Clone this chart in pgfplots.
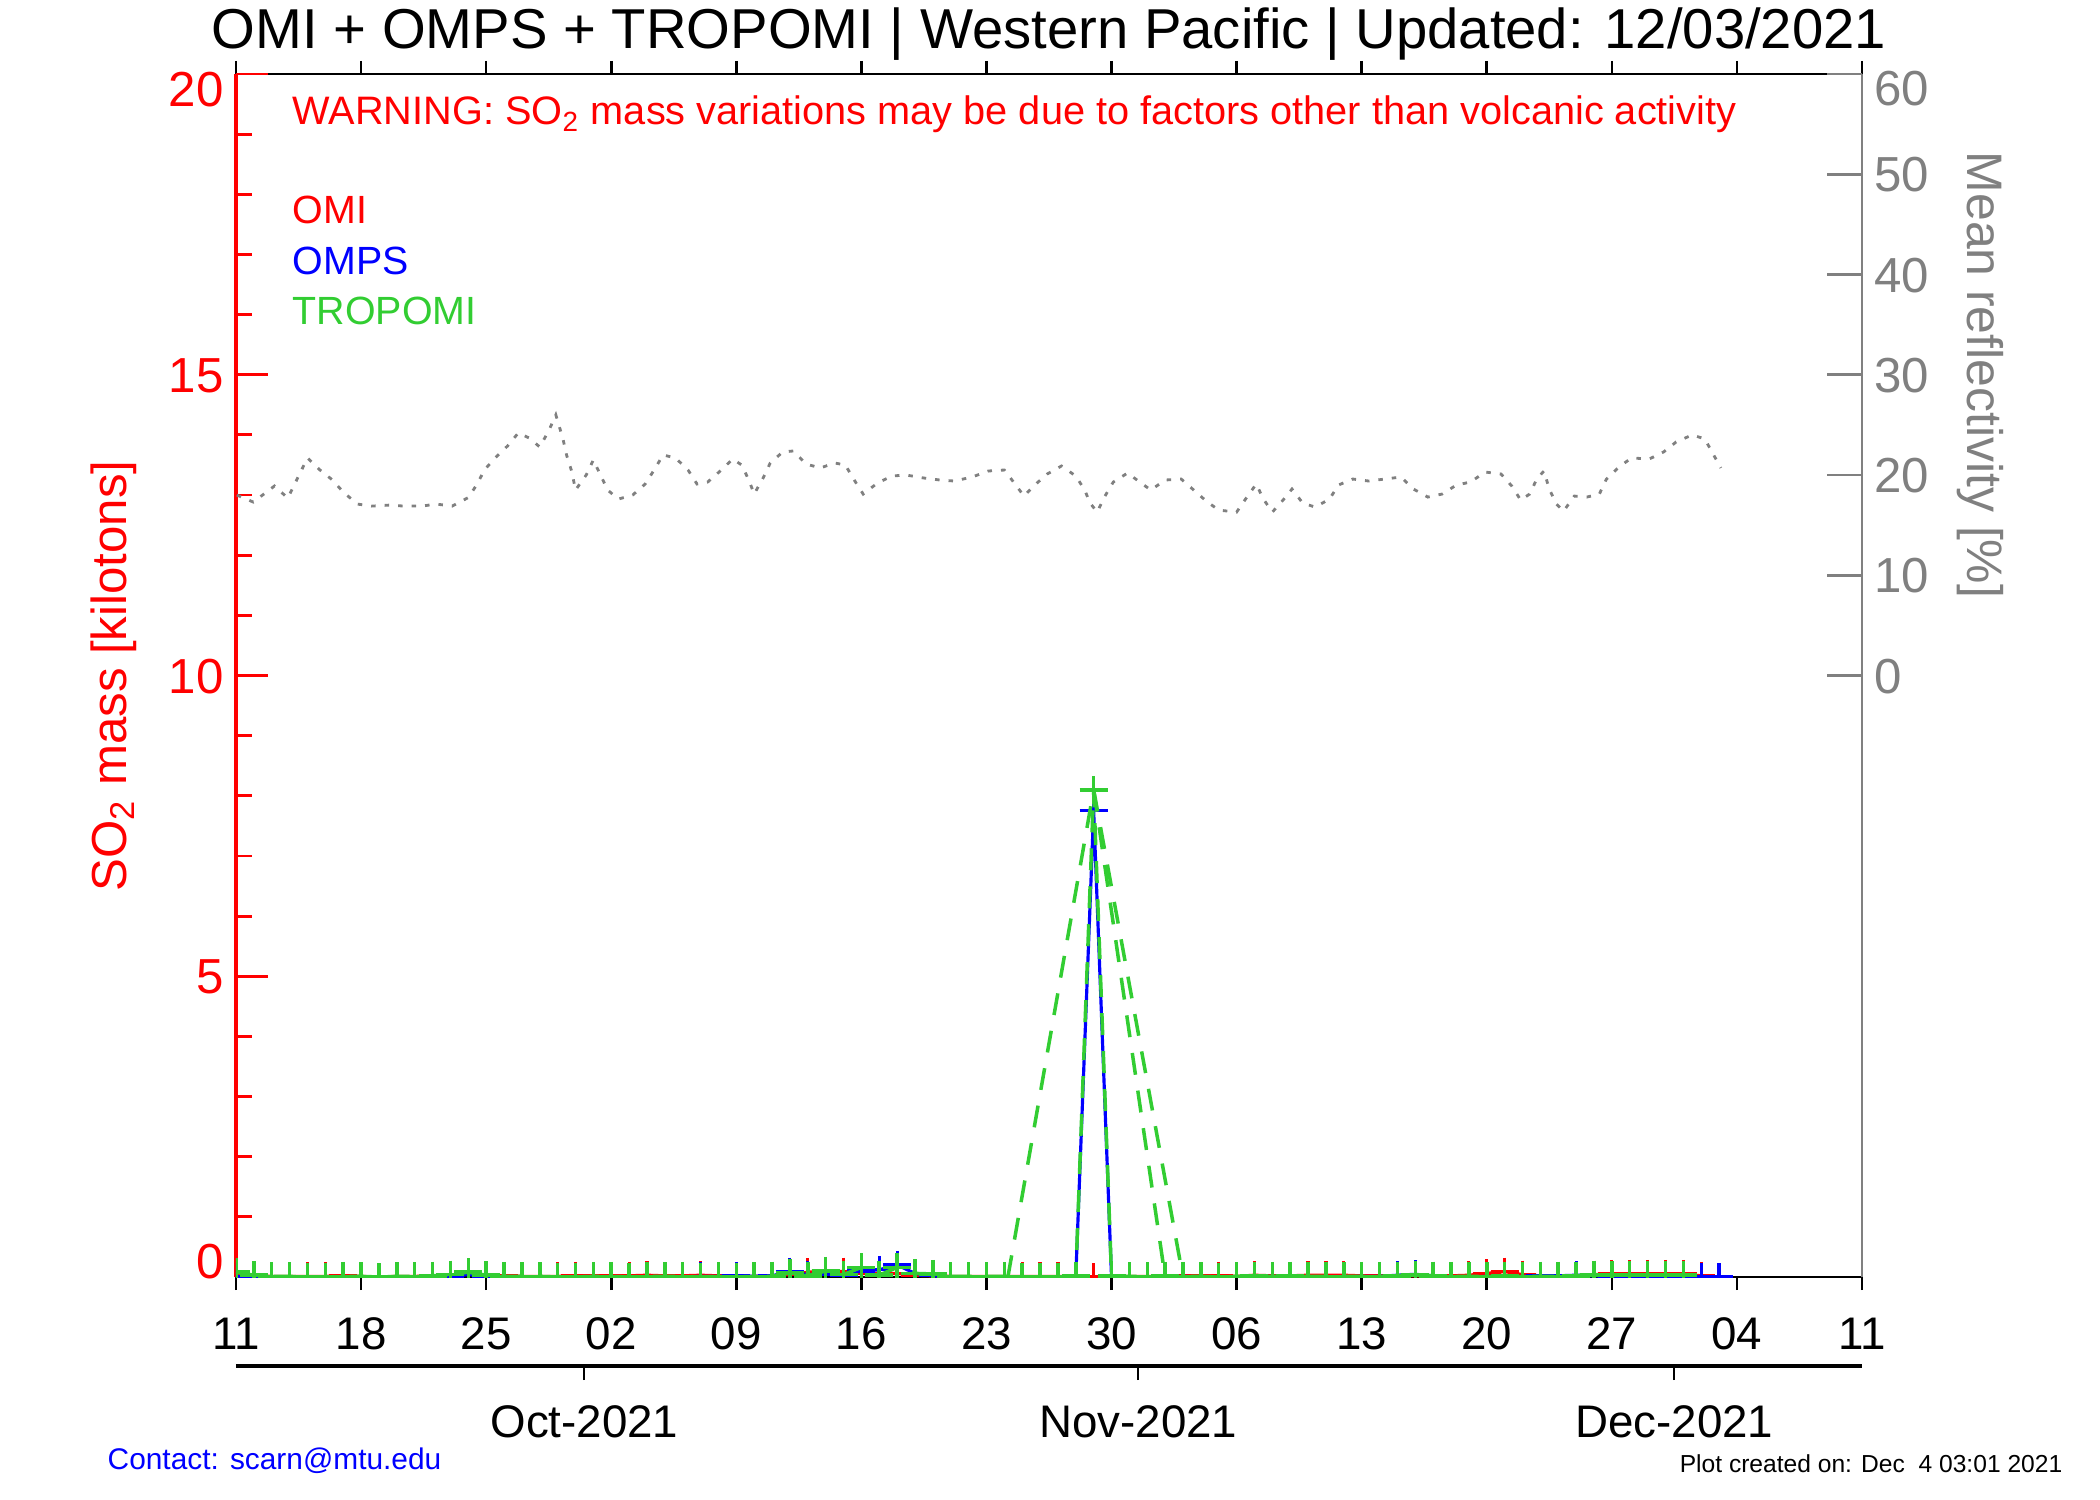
\documentclass[border=0pt]{standalone}
\usepackage{fontspec}
\setmainfont{Liberation Sans}
\usepackage{pgfplots}
\usepackage{pgfplotstable}
\pgfplotsset{compat=1.18}
\definecolor{omired}{RGB}{255,0,0}
\definecolor{ompsblue}{RGB}{0,0,255}
\definecolor{tropgreen}{RGB}{50,205,50}
\definecolor{refgray}{RGB}{128,128,128}
\newcommand{\tl}[2]{\raisebox{#1}[0pt][0pt]{#2}}

\pgfplotstableread{
day r
0.05 18.0
0.97 17.3
2.15 18.9
2.9 17.7
4.0 21.7
4.7 20.5
5.4 19.5
6.0 18.3
6.8 17.1
7.6 16.9
8.6 17.0
9.4 16.9
10.4 16.9
11.2 17.1
12.1 16.9
13.0 17.75
13.5 19.1
13.9 20.5
14.5 21.7
15.2 22.9
15.8 24.2
16.4 23.7
17.0 22.8
17.5 24.4
17.9 26.0
18.3 23.6
18.5 22.0
18.8 20.3
19.0 18.5
19.6 20.0
20.0 21.5
20.4 20.0
20.8 18.5
21.4 17.6
22.2 18.0
22.9 19.1
23.4 20.5
23.9 22.0
24.6 21.7
25.3 20.5
25.8 19.1
26.4 19.3
27.1 20.4
27.8 21.6
28.3 21.0
28.7 19.5
29.0 18.1
29.5 19.7
29.9 21.2
30.6 22.3
31.2 22.4
31.9 21.1
32.7 20.7
33.5 21.2
34.1 21.0
34.6 19.5
35.1 18.1
35.9 19.2
36.7 19.9
37.5 20.0
38.5 19.7
39.4 19.5
40.2 19.4
41.2 19.8
42.1 20.4
43.0 20.5
43.6 19.1
44.1 17.9
44.7 19.0
45.4 20.1
46.2 20.9
47.0 19.9
47.5 18.5
47.8 17.2
48.2 16.3
48.6 17.8
49.1 19.3
49.9 20.2
50.5 19.4
51.2 18.5
52.0 19.5
52.9 19.6
53.6 18.5
54.3 17.4
55.0 16.5
56.0 16.3
56.5 17.6
57.1 19.1
57.5 17.6
58.0 16.3
58.6 17.5
59.1 18.6
59.7 17.2
60.4 16.8
61.2 17.6
61.7 19.0
62.5 19.6
63.4 19.4
64.3 19.6
65.2 19.8
65.9 18.6
66.7 17.8
67.5 18.1
68.3 19.0
69.1 19.3
69.9 20.3
70.8 20.1
71.4 18.9
71.9 17.5
72.4 18.1
72.8 19.6
73.2 20.4
73.5 18.6
73.9 17.1
74.3 16.4
74.9 17.9
75.6 17.8
76.3 18.1
76.7 19.6
77.4 20.8
78.1 21.7
79.1 21.6
79.9 22.3
80.6 23.3
81.5 24.0
82.2 23.6
82.7 22.0
83.1 20.7
}\refl

\pgfplotstableread{
day v
0 0.03
1 0.02
2 0.01
3 0.01
4 0.01
5 0.01
6 0.02
7 0.01
8 0.00
9 0.01
10 0.01
11 0.02
12 0.03
13 0.06
14 0.03
15 0.02
16 0.01
17 0.01
18 0.01
19 0.02
20 0.02
21 0.02
22 0.02
23 0.03
24 0.02
25 0.02
26 0.03
27 0.02
28 0.01
29 0.01
30 0.02
31 0.04
32 0.08
33 0.10
34 0.09
35 0.06
36 0.05
37 0.06
38 0.03
39 0.02
40 0.01
41 0.01
42 0.01
43 0.01
44 0.01
45 0.01
46 0.01
47 0.01
48 0.00
49 0.00
50 0.01
51 0.01
52 0.01
53 0.02
54 0.02
55 0.02
56 0.01
57 0.03
58 0.02
59 0.02
60 0.03
61 0.03
62 0.03
63 0.02
64 0.02
65 0.02
66 0.02
67 0.02
68 0.02
69 0.03
70 0.06
71 0.09
72 0.04
73 0.02
74 0.02
75 0.02
76 0.04
77 0.05
78 0.05
79 0.05
80 0.05
81 0.05
82 0.02
83 0.00
}\omi

\pgfplotstableread{
day v
0 0.00
1 0.00
2 0.00
3 0.00
4 0.00
5 0.00
6 0.00
7 0.00
8 0.00
9 0.00
10 0.00
11 0.00
12 0.01
13 0.04
14 0.01
15 0.00
16 0.00
17 0.00
18 0.00
19 0.00
20 0.00
21 0.00
22 0.00
23 0.00
24 0.00
25 0.00
26 0.01
27 0.01
28 0.02
29 0.01
30 0.02
31 0.09
32 0.04
33 0.05
34 0.03
35 0.10
36 0.12
37 0.20
38 0.06
39 0.02
40 0.00
41 0.00
42 0.00
43 0.00
44 0.00
45 0.00
46 0.00
47 0.00
48 7.75
49 0.00
50 0.00
51 0.00
52 0.00
53 0.01
54 0.00
55 0.00
56 0.00
57 0.01
58 0.01
59 0.01
60 0.00
61 0.00
62 0.00
63 0.01
64 0.01
65 0.03
66 0.045
67 0.02
68 0.00
69 0.00
70 0.01
71 0.01
72 0.01
73 0.02
74 0.02
75 0.03
76 0.02
77 0.01
78 0.01
79 0.01
80 0.01
81 0.01
82 0.00
83 0.00
}\omps

\pgfplotstableread{
day v
0 0.08
1 0.03
2 0.01
3 0.01
4 0.00
5 0.00
6 0.01
7 0.01
8 0.00
9 0.01
10 0.01
11 0.02
12 0.04
13 0.08
14 0.03
15 0.01
16 0.01
17 0.01
18 0.00
19 0.00
20 0.01
21 0.01
22 0.00
23 0.01
24 0.01
25 0.01
26 0.00
27 0.01
28 0.00
29 0.01
30 0.01
31 0.07
32 0.02
33 0.10
34 0.04
35 0.16
36 0.03
37 0.16
38 0.06
39 0.05
40 0.01
41 0.01
42 0.01
43 0.01
44 0.00
45 0.00
46 0.00
47 0.02
48 8.10
49 0.02
50 0.01
51 0.01
52 0.02
53 0.01
54 0.01
55 0.00
56 0.01
57 0.02
58 0.01
59 0.02
60 0.01
61 0.01
62 0.01
63 0.01
64 0.01
65 0.02
66 0.03
67 0.02
68 0.01
69 0.01
70 0.01
71 0.02
72 0.01
73 0.01
74 0.01
75 0.02
76 0.03
77 0.03
78 0.03
79 0.03
80 0.03
81 0.03
}\tropomi

\begin{document}
\begin{tikzpicture}
\path[use as bounding box] (-23.6mm,-22.3mm) rectangle (186.4mm,127.7mm);

% x axis box (bottom and top), day ticks
\begin{axis}[at={(0,0)}, anchor=south west, scale only axis,
  width=162.6mm, height=120.3mm,
  xmin=0, xmax=91, ymin=0, ymax=20,
  hide y axis,
  xtick={0,7,...,91},
  xticklabels={11,18,25,02,09,16,23,30,06,13,20,27,04,11},
  xtick pos=both, xticklabel pos=lower,
  tick align=outside, major tick length=1.3mm,
  axis line style={black, line width=0.75pt},
  tick style={black, line width=0.75pt},
  xticklabel style={font=\fontsize{13}{15}\selectfont, anchor=base, yshift=-5.9mm}]
\end{axis}

% SO2 mass (left axis)
\begin{axis}[at={(0,0)}, anchor=south west, scale only axis,
  width=162.6mm, height=120.3mm,
  xmin=0, xmax=91, ymin=0, ymax=20,
  hide x axis, axis y line*=left,
  y axis line style={omired, line width=0.9pt},
  ytick={0,5,...,20},
  yticklabels={\tl{-0.1mm}{0},\tl{-1.77mm}{5},\tl{-1.77mm}{10},\tl{-1.77mm}{15},\tl{-3.25mm}{20}},
  minor ytick={1,2,3,4,6,7,8,9,11,12,13,14,16,17,18,19},
  tick align=inside, major tick length=3.2mm, minor tick length=1.6mm,
  tick style={omired, line width=0.8pt},
  yticklabel style={omired, font=\fontsize{14}{16}\selectfont},
  clip marker paths=true]
\addplot[omired, line width=0.9pt, mark=+, mark size=1.4mm, mark options={solid, line width=0.9pt}] table {\omi};
\addplot[ompsblue, line width=0.9pt, mark=+, mark size=1.4mm, mark options={solid, line width=0.9pt}] table {\omps};
\addplot[tropgreen, line width=1.0pt, dash pattern=on 2.2mm off 1.6mm, mark=+, mark size=1.4mm, mark options={solid, line width=1.0pt}] table {\tropomi};
\addplot[tropgreen, line width=1.0pt, dash pattern=on 2.2mm off 1.6mm] coordinates {(43.2,0) (48,8.1)};
\addplot[tropgreen, line width=1.0pt, dash pattern=on 2.2mm off 1.6mm] coordinates {(48,8.1) (52.0,0)};
\addplot[tropgreen, line width=1.0pt, dash pattern=on 2.2mm off 1.6mm] coordinates {(48,8.1) (53.0,0)};
\end{axis}

% reflectivity (right axis)
\begin{axis}[at={(0,0)}, anchor=south west, scale only axis,
  width=162.6mm, height=120.3mm,
  xmin=0, xmax=91, ymin=-60, ymax=60,
  hide x axis, axis y line*=right,
  y axis line style={refgray, line width=0.8pt},
  ytick={0,10,...,60},
  yticklabels={\tl{-1.77mm}{0},\tl{-1.77mm}{10},\tl{-1.77mm}{20},\tl{-1.77mm}{30},\tl{-1.77mm}{40},\tl{-1.77mm}{50},\tl{-3.1mm}{60}},
  tick align=inside, major tick length=3.5mm,
  tick style={refgray, line width=0.8pt},
  yticklabel style={refgray, font=\fontsize{14}{16}\selectfont}]
\addplot[refgray, line width=0.8pt, dash pattern=on 0.45mm off 0.9mm] table {\refl};
\end{axis}

% month axis
\begin{axis}[at={(0,-8.9mm)}, anchor=south west, scale only axis,
  width=162.6mm, height=5mm,
  xmin=0, xmax=91, ymin=0, ymax=1,
  axis x line*=bottom, hide y axis,
  xtick={19.5,50.5,80.5},
  xticklabels={Oct-2021,Nov-2021,Dec-2021},
  tick align=outside, major tick length=1.4mm,
  axis line style={black, line width=1.3pt},
  tick style={black, line width=0.6pt},
  xticklabel style={font=\fontsize{13}{15}\selectfont, anchor=base, yshift=-5.7mm}]
\end{axis}

\node[anchor=base, font=\fontsize{16}{19}\selectfont] at (81.3mm,122.8mm)
  {OMI + OMPS + TROPOMI | Western Pacific | Updated: 12/03/2021};
\node[anchor=base west, inner sep=0pt, text=omired, font=\fontsize{11.3}{13}\selectfont] at (5.6mm,115.2mm)
  {WARNING: SO\textsubscript{2} mass variations may be due to factors other than volcanic activity};
\node[anchor=base west, inner sep=0pt, text=omired, font=\fontsize{11.2}{13}\selectfont] at (5.6mm,105.3mm) {OMI};
\node[anchor=base west, inner sep=0pt, text=ompsblue, font=\fontsize{11.2}{13}\selectfont] at (5.6mm,100.2mm) {OMPS};
\node[anchor=base west, inner sep=0pt, text=tropgreen, font=\fontsize{11.2}{13}\selectfont] at (5.6mm,95.2mm) {TROPOMI};
\node[rotate=90, text=omired, font=\fontsize{14}{16}\selectfont] at (-12.2mm,60.1mm)
  {SO\textsubscript{2} mass [kilotons]};
\node[rotate=-90, text=refgray, font=\fontsize{14.2}{16}\selectfont] at (174.4mm,90.2mm)
  {Mean reflectivity [\%]};
\node[anchor=base west, inner sep=0pt, text=ompsblue, font=\fontsize{8.5}{10}\selectfont] at (-12.9mm,-19.3mm)
  {Contact: scarn@mtu.edu};
\node[anchor=base east, inner sep=0pt, font=\fontsize{7}{9}\selectfont] at (182.7mm,-19.5mm)
  {Plot created on: Dec\ \ 4 03:01 2021};
\end{tikzpicture}
\end{document}
